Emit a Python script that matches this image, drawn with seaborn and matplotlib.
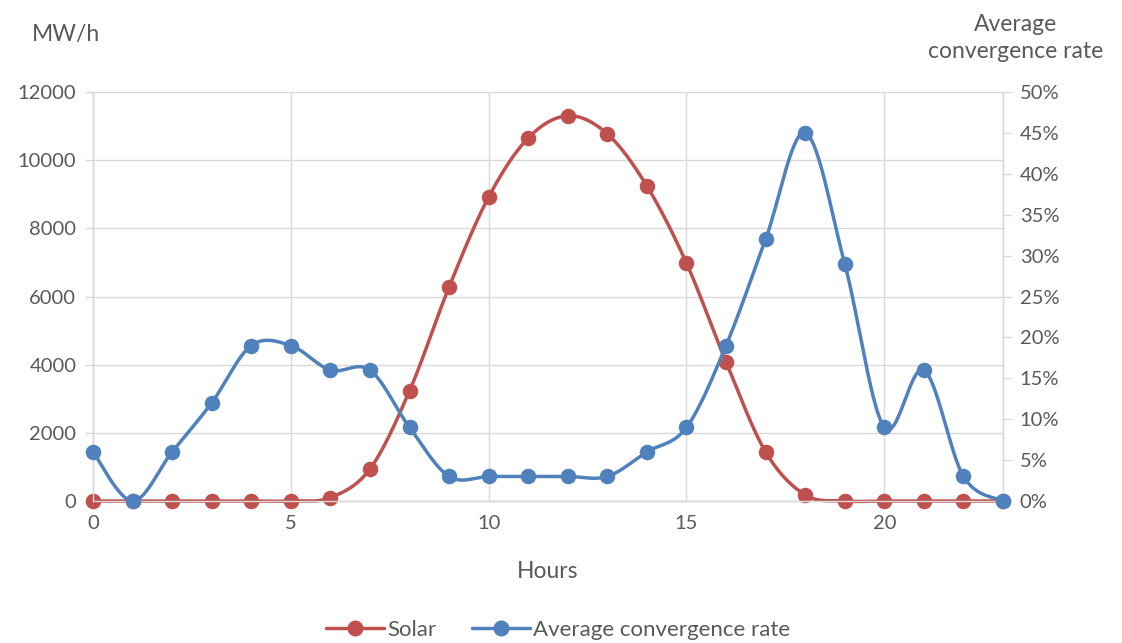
import numpy as np
import pandas as pd
import matplotlib
matplotlib.use("Agg")
import matplotlib.pyplot as plt
from matplotlib.lines import Line2D
from matplotlib.ticker import FuncFormatter
import seaborn as sns

hours = list(range(24))
solar = [0, 0, 0, 0, 0, 0, 100, 940, 3230, 6280, 8920, 10650, 11300, 10770,
         9240, 6980, 4080, 1440, 180, 0, 0, 0, 0, 0]
conv_rate = [0.06, 0.0, 0.06, 0.12, 0.19, 0.19, 0.16, 0.16, 0.09, 0.03, 0.03, 0.03,
             0.03, 0.03, 0.06, 0.09, 0.19, 0.32, 0.45, 0.29, 0.09, 0.16, 0.03, 0.0]
left_ticks = [0, 2000, 4000, 6000, 8000, 10000, 12000]
right_ticks = [0, 0.05, 0.10, 0.15, 0.20, 0.25, 0.30, 0.35, 0.40, 0.45, 0.50]
x_ticks = [0, 5, 10, 15, 20]

RED = "#C0504D"
BLUE = "#4F81BD"
GRID = "#D9D9D9"
TXT = "#595959"


def smooth(x, y, n=30):
    """Excel-like smoothed line (Catmull-Rom Bezier) through the points."""
    x = np.asarray(x, float)
    y = np.asarray(y, float)
    pts = np.column_stack([x, y])
    out = []
    t = np.linspace(0, 1, n)
    for i in range(len(pts) - 1):
        p0 = pts[i - 1] if i > 0 else pts[i]
        p1 = pts[i]
        p2 = pts[i + 1]
        p3 = pts[i + 2] if i + 2 < len(pts) else pts[i + 1]
        b1 = p1 + (p2 - p0) / 6
        b2 = p2 - (p3 - p1) / 6
        seg = ((1 - t) ** 3)[:, None] * p1 + (3 * (1 - t) ** 2 * t)[:, None] * b1 \
            + (3 * (1 - t) * t ** 2)[:, None] * b2 + (t ** 3)[:, None] * p2
        out.append(seg if i == 0 else seg[1:])
    s = np.vstack(out)
    return s[:, 0], s[:, 1]


sns.set_theme(style="white")
plt.rcParams["font.family"] = ["Lato", "DejaVu Sans"]

fig = plt.figure(figsize=(11.22, 6.43), dpi=100)
ax = fig.add_axes([93 / 1122, 1 - 501 / 643, (1003 - 93) / 1122, (501 - 92) / 643])
ax2 = ax.twinx()

sx, sy = smooth(hours, solar)
cx, cy = smooth(hours, conv_rate)
df_s = pd.DataFrame({"x": sx, "y": sy})
df_c = pd.DataFrame({"x": cx, "y": cy})
pts_s = pd.DataFrame({"x": hours, "y": solar})
pts_c = pd.DataFrame({"x": hours, "y": conv_rate})

sns.lineplot(data=df_s, x="x", y="y", ax=ax, color=RED, linewidth=2.5, sort=False,
             estimator=None, zorder=3, clip_on=False)
sns.scatterplot(data=pts_s, x="x", y="y", ax=ax, color=RED, s=125, edgecolor=RED,
                linewidth=0, zorder=4, clip_on=False)
sns.lineplot(data=df_c, x="x", y="y", ax=ax2, color=BLUE, linewidth=2.5, sort=False,
             estimator=None, zorder=3, clip_on=False)
sns.scatterplot(data=pts_c, x="x", y="y", ax=ax2, color=BLUE, s=125, edgecolor=BLUE,
                linewidth=0, zorder=4, clip_on=False)

ax.set_xlim(0, 23)
ax.set_ylim(0, 12000)
ax2.set_ylim(0, 0.5)
ax.set_xticks(x_ticks)
ax.set_yticks(left_ticks)
ax2.set_yticks(right_ticks)
ax2.yaxis.set_major_formatter(FuncFormatter(lambda v, p: f"{v * 100:.0f}%"))

ax.grid(True, color=GRID, linewidth=1)
ax.set_axisbelow(True)
ax2.grid(False)
for a in (ax, ax2):
    for sp in a.spines.values():
        sp.set_color(GRID)
        sp.set_linewidth(1)
    a.spines["top"].set_visible(False)
    a.set_xlabel("")
    a.set_ylabel("")

ax.tick_params(axis="y", which="both", left=True, length=6, color=GRID, width=1,
               labelsize=14.5, labelcolor=TXT, pad=6)
ax.tick_params(axis="x", which="both", bottom=False, length=0, labelsize=14.5,
               labelcolor=TXT, pad=10)
ax2.tick_params(axis="y", which="both", right=True, length=6, color=GRID, width=1,
                labelsize=14.5, labelcolor=TXT, pad=6)

fig.text(66 / 1122, 1 - 35 / 643, "MW/h", ha="center", va="center", fontsize=16.5, color=TXT)
fig.text(1016 / 1122, 1 - 38 / 643, "Average\nconvergence rate", ha="center", va="center",
         fontsize=16.5, color=TXT, linespacing=1.35)
fig.text(548 / 1122, 1 - 572 / 643, "Hours", ha="center", va="center", fontsize=16.5, color=TXT)

handles = [Line2D([], [], color=RED, linewidth=2.5, marker="o", markersize=10.5),
           Line2D([], [], color=BLUE, linewidth=2.5, marker="o", markersize=10.5)]
leg = fig.legend(handles, ["Solar", "Average convergence rate"], loc="center",
                 bbox_to_anchor=(558 / 1122, 1 - 630 / 643), ncol=2, frameon=False,
                 fontsize=16, handlelength=2.6, handletextpad=0.15, columnspacing=1.6)
for t in leg.get_texts():
    t.set_color(TXT)

fig.savefig("out.png", dpi=100)
